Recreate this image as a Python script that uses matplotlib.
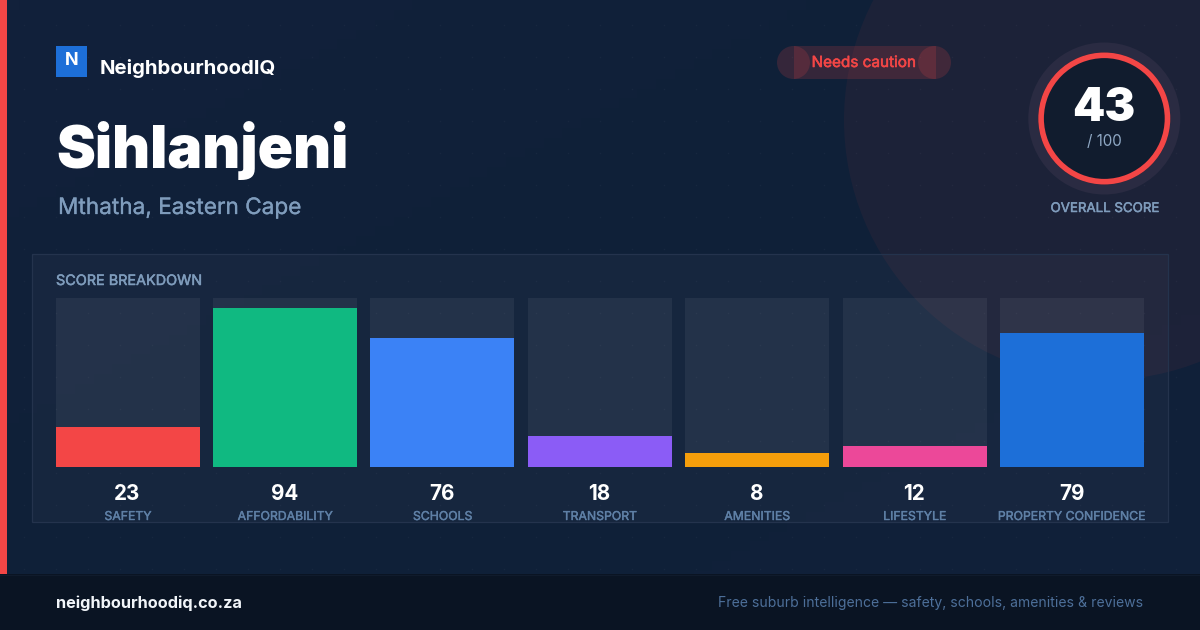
import numpy as np
import matplotlib
matplotlib.use('Agg')
import matplotlib.pyplot as plt
import matplotlib.patheffects as pe
from matplotlib.patches import Rectangle, Circle, Wedge

plt.rcParams['font.family'] = ['Inter', 'DejaVu Sans']

categories = ['SAFETY', 'AFFORDABILITY', 'SCHOOLS', 'TRANSPORT', 'AMENITIES', 'LIFESTYLE', 'PROPERTY CONFIDENCE']
scores = [23, 94, 76, 18, 8, 12, 79]
bar_colors = ['#f34646', '#10b981', '#3b82f6', '#8b5cf6', '#f59e0b', '#ec4899', '#1d6fd8']
overall_score = 43
score_max = 100

RED = '#f34646'


def px(size):
    # css pixels to points at dpi 100
    return size * 0.72


def medium(color, width=0.35):
    # Inter only comes in a few weights here, thicken regular a little
    return [pe.withStroke(linewidth=width, foreground=color)]


fig = plt.figure(figsize=(12, 6.3), dpi=100)

# background canvas in pixel coords
bg = fig.add_axes([0, 0, 1, 1])
bg.axis('off')

grad = np.linspace(0, 1, 64).reshape(1, -1) + np.linspace(0, 1, 64).reshape(-1, 1)
bg.imshow(grad, extent=[0, 1200, 630, 0], aspect='auto', zorder=0,
          cmap=matplotlib.colors.LinearSegmentedColormap.from_list('bg', ['#12213b', '#0f2038', '#11203a']))
bg.set_xlim(0, 1200)
bg.set_ylim(630, 0)

# big faint circle top right
bg.add_patch(Circle((1104, 120), 260, fc=RED, alpha=0.06, ec='none', zorder=1))

# dot grid
gx, gy = np.meshgrid(np.arange(24, 1200, 32), np.arange(25, 630, 32))
bg.scatter(gx.ravel(), gy.ravel(), s=1.2, color='#ffffff', alpha=0.035, linewidths=0, zorder=2)

# left stripe and footer
bg.add_patch(Rectangle((0, 0), 7, 574, fc=RED, ec='none', zorder=3))
bg.add_patch(Rectangle((0, 574), 1200, 56, fc='#0a1423', ec='none', zorder=3))
bg.plot([0, 1200], [574.5, 574.5], color='#101b2c', lw=0.8, zorder=4)

# logo
bg.add_patch(Rectangle((56, 46), 31, 31, fc='#1d6fd8', ec='none', zorder=3))
bg.text(71.5, 60.5, 'N', color='white', fontsize=px(18), fontweight='bold', ha='center', va='center', zorder=5)
bg.text(100, 69, 'NeighbourhoodIQ', color='white', fontsize=px(20.35), fontweight='bold', ha='left', va='center', zorder=5)

# title
bg.text(56, 150.5, 'Sihlanjeni', color='white', fontsize=px(58.6), fontweight='black', ha='left', va='center', zorder=5)
bg.text(58, 208, 'Mthatha, Eastern Cape', color='#7f9cbc', fontsize=px(22.6), ha='left', va='center', zorder=5,
        path_effects=medium('#7f9cbc', 0.2))

# status pill, ends overlap the body
bg.add_patch(Rectangle((793.5, 46), 142, 33, fc=RED, alpha=0.17, ec='none', zorder=3))
bg.add_patch(Circle((793.5, 62.5), 16.5, fc=RED, alpha=0.17, ec='none', zorder=3))
bg.add_patch(Circle((934.5, 62.5), 16.5, fc=RED, alpha=0.17, ec='none', zorder=3))
bg.text(863.5, 62.5, 'Needs caution', color=RED, fontsize=px(15.3), ha='center', va='center', zorder=5,
        path_effects=medium(RED, 0.4))

# score gauge
gc = (1104.3, 118.5)
bg.add_patch(Circle(gc, 76, fc='#2a2b42', ec='none', zorder=3))
bg.add_patch(Circle(gc, 66, fc='#111c2e', ec='none', zorder=4))
bg.add_patch(Wedge(gc, 66, 0, 360, width=5.6, fc=RED, ec='none', zorder=5))
bg.text(1104, 109, str(overall_score), color='white', fontsize=px(46), fontweight='black', ha='center', va='center', zorder=6)
bg.text(1104, 142, '/ %d' % score_max, color='#8fa8c4', fontsize=px(15.2), ha='center', va='center', zorder=6)
bg.text(1104.5, 209, 'OVERALL SCORE', color='#7f9cbc', fontsize=px(13.3), ha='center', va='center', zorder=6,
        path_effects=medium('#7f9cbc'))

# breakdown panel
bg.add_patch(Rectangle((32, 254), 1136, 268, fc='#ffffff', alpha=0.03, ec='none', zorder=3))
bg.add_patch(Rectangle((32, 254), 1136, 268, fc='none', ec='#24334d', lw=0.9, zorder=3))
bg.text(56, 281, 'SCORE BREAKDOWN', color='#7f9cbc', fontsize=px(14.4), ha='left', va='center', zorder=5,
        path_effects=medium('#7f9cbc'))

# bars, zero sits just above the axes bottom like the reference
step = 157.4
half = 72 / step
y_floor = -0.635 / 1.69
ax = fig.add_axes([55.6 / 1200, 1 - 467 / 630, 1088.4 / 1200, 169 / 630])
ax.patch.set_alpha(0)
xs = np.arange(len(categories))
ax.bar(xs, [score_max] * len(xs), bottom=y_floor, width=2 * half, color='#ffffff', alpha=0.06, linewidth=0)
ax.bar(xs, np.array(scores) - y_floor, bottom=y_floor, width=2 * half, color=bar_colors, linewidth=0)
ax.set_xlim(-half, len(xs) - 1 + half)
ax.set_ylim(y_floor, y_floor + score_max)
ax.axis('off')

for i, (name, val) in enumerate(zip(categories, scores)):
    cx = 128 + 157.33 * i
    bg.text(cx - 0.5, 493.5, str(val), color='white', fontsize=px(20.6), fontweight='bold', ha='center', va='center', zorder=5)
    bg.text(cx, 517, name, color='#5f80a6', fontsize=px(12.25), ha='center', va='center', zorder=5,
            path_effects=medium('#5f80a6', 0.3))

# footer text
bg.text(56, 603, 'neighbourhoodiq.co.za', color='#f1f5f9', fontsize=px(16.3), fontweight='bold', ha='left', va='center', zorder=5)
bg.text(1143, 603, 'Free suburb intelligence \u2014 safety, schools, amenities & reviews', color='#4d6f99',
        fontsize=px(14.0), ha='right', va='center', zorder=5)

fig.savefig('out.png', dpi=100)
